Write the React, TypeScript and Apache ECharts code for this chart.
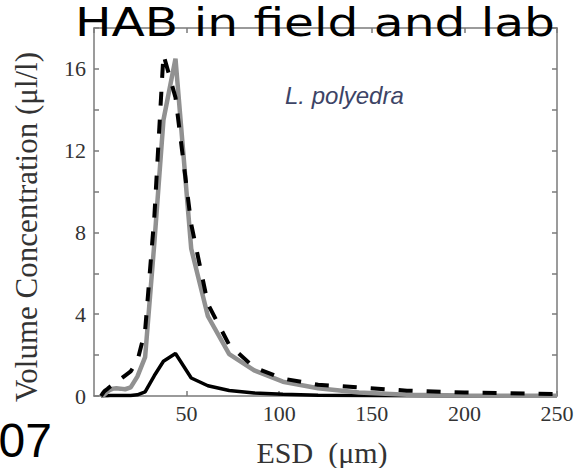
import React, { useEffect, useRef } from "react";
import * as echarts from "echarts";

// ESD bin centres (µm)
const ESD = [3.8, 4.5, 5.3, 6.2, 7.3, 8.6, 10.2, 12.1, 14.2, 16.8, 19.8, 23.4, 27.6, 32.6, 37.5, 44, 52.5, 61.5, 73, 86.5, 102, 121, 143, 169, 200, 236, 250];

// Volume concentration (µl/l)
const FIELD_DASHED = [0, 0.1, 0.2, 0.28, 0.35, 0.45, 0.55, 0.7, 0.82, 1.0, 1.2, 1.7, 3.2, 8.8, 16.7, 14.6, 8.4, 4.5, 2.5, 1.4, 0.85, 0.55, 0.42, 0.26, 0.17, 0.12, 0.1];
const LAB_GRAY = [0, 0.02, 0.05, 0.12, 0.22, 0.3, 0.36, 0.38, 0.36, 0.33, 0.42, 0.95, 1.9, 7.5, 13.5, 16.5, 7.2, 3.9, 2.05, 1.25, 0.7, 0.38, 0.17, 0.06, 0.02, 0.01, 0.01];
const BLACK_SOLID = [0, 0, 0.01, 0.01, 0.01, 0.02, 0.02, 0.02, 0.02, 0.02, 0.03, 0.06, 0.2, 1.0, 1.7, 2.08, 0.88, 0.5, 0.27, 0.15, 0.08, 0.04, 0.02, 0.01, 0, 0, 0];

const X_MIN = 0;
const X_MAX = 250;
const X_STEP = 50;
const Y_MIN = 0;
const Y_MAX = 18;
const Y_STEP = 2;
const Y_LABEL_STEP = 4;

const TITLE = "HAB in field and lab";
const SPECIES = "L. polyedra";
const X_NAME = "ESD  (μm)";
const Y_NAME = "Volume Concentration (μl/l)";
const CORNER = "07";

const AXIS_COLOR = "#7a7a7a";
const LABEL_COLOR = "#333333";
const SERIF = "Liberation Serif";

export default function App() {
  const ref = useRef<HTMLDivElement>(null);

  useEffect(() => {
    if (!ref.current) return;
    const chart = echarts.init(ref.current, null, { renderer: "svg" });
    const pairs = (ys: number[]) => ESD.map((x, i) => [x, ys[i]]);

    const axisLine = { show: true, onZero: false, lineStyle: { color: AXIS_COLOR, width: 1.5 } };
    const axisTick = { show: true, inside: true, length: 5, lineStyle: { color: AXIS_COLOR, width: 1.5 } };
    const tickRich = { t: { fontFamily: SERIF, fontSize: 22, color: LABEL_COLOR } };

    chart.setOption({
      animation: false,
      backgroundColor: "#ffffff",
      textStyle: { fontFamily: SERIF },
      grid: { left: 94, right: 23, top: 28, bottom: 72, containLabel: false },
      xAxis: [
        {
          type: "value",
          min: X_MIN,
          max: X_MAX,
          interval: X_STEP,
          position: "bottom",
          axisLine,
          axisTick,
          axisLabel: {
            fontFamily: SERIF,
            fontSize: 22,
            color: LABEL_COLOR,
            showMinLabel: false,
            margin: 6,
            formatter: (v: number) => `{t|${v}}`,
            rich: tickRich,
          },
          splitLine: { show: false },
        },
        {
          type: "value",
          min: X_MIN,
          max: X_MAX,
          interval: X_STEP,
          position: "top",
          axisLine,
          axisTick,
          axisLabel: { show: false },
          splitLine: { show: false },
        },
      ],
      yAxis: [
        {
          type: "value",
          min: Y_MIN,
          max: Y_MAX,
          interval: Y_STEP,
          position: "left",
          axisLine,
          axisTick,
          axisLabel: {
            fontFamily: SERIF,
            fontSize: 22,
            color: LABEL_COLOR,
            margin: 8,
            formatter: (v: number) => (v % Y_LABEL_STEP === 0 ? `{t|${v}}` : ""),
            rich: tickRich,
          },
          splitLine: { show: false },
        },
        {
          type: "value",
          min: Y_MIN,
          max: Y_MAX,
          interval: Y_STEP,
          position: "right",
          axisLine,
          axisTick,
          axisLabel: { show: false },
          splitLine: { show: false },
        },
      ],
      series: [
        {
          name: "Subset",
          type: "line",
          data: pairs(BLACK_SOLID),
          showSymbol: false,
          z: 2,
          lineStyle: { color: "#000000", width: 3.5 },
        },
        {
          name: "Lab",
          type: "line",
          data: pairs(LAB_GRAY),
          showSymbol: false,
          z: 3,
          lineStyle: { color: "#919191", width: 4.5 },
        },
        {
          name: "Field",
          type: "line",
          data: pairs(FIELD_DASHED),
          showSymbol: false,
          z: 4,
          lineStyle: { color: "#000000", width: 4, type: [14, 14], cap: "butt" },
        },
      ],
      graphic: [
        {
          type: "text",
          x: 75,
          y: 22,
          scaleX: 1.247,
          z: 100,
          style: {
            text: TITLE,
            font: '39px "DejaVu Sans"',
            fill: "#000000",
            align: "left",
            verticalAlign: "middle",
          },
        },
        {
          type: "text",
          x: 285,
          y: 95,
          style: {
            text: SPECIES,
            font: 'italic 24px "Liberation Sans"',
            fill: "#3d4466",
            align: "left",
            verticalAlign: "middle",
          },
        },
        {
          type: "text",
          x: 322,
          y: 452,
          style: {
            text: X_NAME,
            font: '30px "Liberation Serif"',
            fill: LABEL_COLOR,
            align: "center",
            verticalAlign: "middle",
          },
        },
        {
          type: "text",
          x: 26,
          y: 227,
          rotation: Math.PI / 2,
          style: {
            text: Y_NAME,
            font: '31px "Liberation Serif"',
            fill: LABEL_COLOR,
            align: "center",
            verticalAlign: "middle",
          },
        },
        {
          type: "text",
          x: 52,
          y: 440,
          style: {
            text: CORNER,
            font: '48px "Liberation Sans"',
            fill: "#000000",
            align: "right",
            verticalAlign: "middle",
          },
        },
      ],
    });

    return () => chart.dispose();
  }, []);

  return (
    <div
      ref={ref}
      style={{ position: "absolute", left: 0, top: 0, width: 580, height: 468 }}
    />
  );
}
